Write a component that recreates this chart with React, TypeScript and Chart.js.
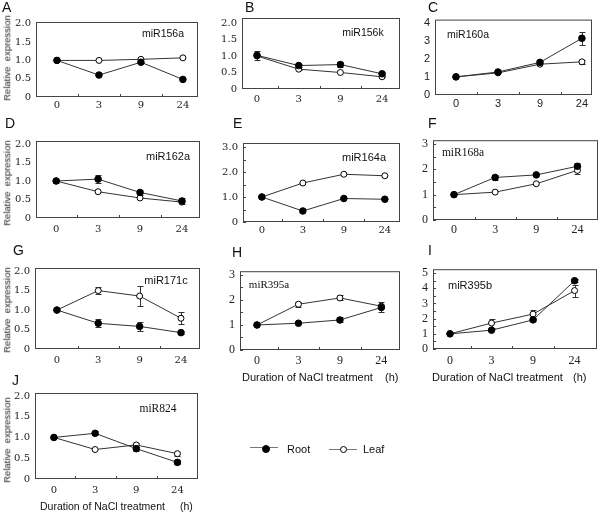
import React, { useEffect, useRef } from "react";
import { Chart, registerables } from "chart.js";
Chart.register(...registerables);

// ---------- data ----------
const timeLabels = ["0", "3", "9", "24"];
const timeIndex = [0, 1, 2, 3];

const rootA = [1.0, 0.6, 0.95, 0.48];
const leafA = [1.0, 1.0, 1.03, 1.07];
const rootErrA = [0, 0, 0, 0];
const leafErrA = [0, 0, 0, 0];

const rootB = [1.02, 0.71, 0.74, 0.46];
const leafB = [1.0, 0.6, 0.5, 0.37];
const rootErrB = [0.13, 0.04, 0.07, 0.04];
const leafErrB = [0, 0.02, 0, 0.02];

const rootC = [1.0, 1.27, 1.8, 3.13];
const leafC = [1.0, 1.22, 1.7, 1.83];
const rootErrC = [0, 0.05, 0.05, 0.35];
const leafErrC = [0, 0, 0, 0.12];

const rootD = [1.0, 1.05, 0.69, 0.46];
const leafD = [1.0, 0.71, 0.54, 0.43];
const rootErrD = [0.05, 0.1, 0.07, 0.07];
const leafErrD = [0, 0, 0, 0];

const rootE = [1.0, 0.44, 0.94, 0.91];
const leafE = [1.0, 1.56, 1.91, 1.85];
const rootErrE = [0, 0, 0, 0];
const leafErrE = [0, 0, 0, 0];

const rootF = [1.0, 1.68, 1.78, 2.12];
const leafF = [1.0, 1.1, 1.43, 1.96];
const rootErrF = [0, 0.1, 0, 0.12];
const leafErrF = [0, 0, 0, 0.15];

const rootG = [1.0, 0.66, 0.58, 0.42];
const leafG = [1.0, 1.5, 1.36, 0.79];
const rootErrG = [0, 0.1, 0.12, 0.04];
const leafErrG = [0, 0.1, 0.25, 0.15];

const rootH = [1.0, 1.07, 1.2, 1.7];
const leafH = [1.0, 1.83, 2.08, 1.75];
const rootErrH = [0, 0, 0.1, 0.2];
const leafErrH = [0, 0.1, 0.1, 0];

const rootI = [1.0, 1.24, 1.92, 4.5];
const leafI = [1.0, 1.71, 2.3, 3.85];
const rootErrI = [0, 0, 0.1, 0.1];
const leafErrI = [0, 0.3, 0.3, 0.4];

const rootJ = [1.0, 1.1, 0.73, 0.4];
const leafJ = [1.0, 0.71, 0.82, 0.61];
const rootErrJ = [0, 0.05, 0.05, 0.05];
const leafErrJ = [0, 0, 0.05, 0.05];

const ticksHalf = [0, 0.5, 1.0, 1.5, 2.0];
const ticksTo3 = [0, 1, 2, 3];
const ticksTo4 = [0, 1, 2, 3, 4];
const ticksTo5 = [0, 1, 2, 3, 4, 5];

const seriesNames = ["Root", "Leaf"];
const yAxisTitle = "Relative  expression";
const xAxisTitle = "Duration of NaCl treatment";
const xAxisUnit = "(h)";

// ---------- styling ----------
const YW = 34;
const PT = 10;
const PR = 8;
const XH = 22;
const SANS = "'Liberation Sans', Arial, sans-serif";
const SERIF = "'Liberation Serif', 'Times New Roman', serif";
const SIMSUN = { family: "'DejaVu Serif', serif", size: 10 };
const SANSTICK = { family: SANS, size: 11 };
const TIMES = { family: SERIF, size: 12 };

const panels = [
  { letter: "A", title: "miR156a", root: rootA, leaf: leafA, rootErr: rootErrA, leafErr: leafErrA, yTicks: ticksHalf, dec: 1, yMax: 2.05, xMin: -0.5, xMax: 3.36, box: [36, 21, 198, 97], font: SIMSUN, xPad: 2, tFont: SANS, tSize: 10.5, tPos: [163, 33], lPos: [2, 0], yTitle: 58 },
  { letter: "B", title: "miR156k", root: rootB, leaf: leafB, rootErr: rootErrB, leafErr: leafErrB, yTicks: ticksHalf, dec: 1, yMax: 2.15, xMin: -0.36, xMax: 3.43, box: [242, 17, 400, 89], font: SIMSUN, xPad: 4, tFont: SANS, tSize: 10.5, tPos: [363, 32], lPos: [245, 0] },
  { letter: "C", title: "miR160a", root: rootC, leaf: leafC, rootErr: rootErrC, leafErr: leafErrC, yTicks: ticksTo4, dec: 0, yMax: 4.16, xMin: -0.5, xMax: 3.24, box: [435, 18, 592, 95], font: SANSTICK, xPad: 2, tFont: SANS, tSize: 10.5, tPos: [468, 34], lPos: [428, 0] },
  { letter: "D", title: "miR162a", root: rootD, leaf: leafD, rootErr: rootErrD, leafErr: leafErrD, yTicks: ticksHalf, dec: 1, yMax: 2.08, xMin: -0.48, xMax: 3.43, box: [36, 140, 200, 218], font: SIMSUN, xPad: 5, tFont: SANS, tSize: 11, tPos: [168, 156], lPos: [5, 116], yTitle: 183 },
  { letter: "E", title: "miR164a", root: rootE, leaf: leafE, rootErr: rootErrE, leafErr: leafErrE, yTicks: ticksTo3, dec: 1, yMax: 3.16, xMin: -0.46, xMax: 3.37, box: [243, 142, 400, 222], font: SIMSUN, xPad: 2, tFont: SANS, tSize: 11, tPos: [364, 157], lPos: [233, 116], yInner: true },
  { letter: "F", title: "miR168a", root: rootF, leaf: leafF, rootErr: rootErrF, leafErr: leafErrF, yTicks: ticksTo3, dec: 0, yMax: 3.15, xMin: -0.51, xMax: 3.5, box: [433, 138, 598, 220], font: TIMES, xPad: 3, tFont: SERIF, tSize: 11.5, tPos: [463, 153], lPos: [428, 116], yInner: true },
  { letter: "G", title: "miR171c", root: rootG, leaf: leafG, rootErr: rootErrG, leafErr: leafErrG, yTicks: ticksHalf, dec: 1, yMax: 2.08, xMin: -0.53, xMax: 3.46, box: [35, 267, 200, 349], font: SIMSUN, xPad: 5, tFont: SANS, tSize: 11, tPos: [166, 280], lPos: [13, 243], yTitle: 310 },
  { letter: "H", title: "miR395a", root: rootH, leaf: leafH, rootErr: rootErrH, leafErr: leafErrH, yTicks: ticksTo3, dec: 0, yMax: 3.15, xMin: -0.41, xMax: 3.45, box: [240, 269, 400, 350], font: TIMES, xPad: 4, tFont: SERIF, tSize: 11, tPos: [269, 284], lPos: [232, 245], yInner: true, xTitle: [242, 377, 11, 385] },
  { letter: "I", title: "miR395b", root: rootI, leaf: leafI, rootErr: rootErrI, leafErr: leafErrI, yTicks: ticksTo5, dec: 0, yMax: 5.26, xMin: -0.41, xMax: 3.54, box: [433, 267, 597, 349], font: TIMES, xPad: 5, tFont: SANS, tSize: 11, tPos: [470, 285], lPos: [428, 243], yInner: true, xTitle: [432, 377, 11, 573] },
  { letter: "J", title: "miR824", root: rootJ, leaf: leafJ, rootErr: rootErrJ, leafErr: leafErrJ, yTicks: ticksHalf, dec: 1, yMax: 2.07, xMin: -0.46, xMax: 3.5, box: [35, 392, 198, 479], font: SIMSUN, xPad: 5, tFont: SERIF, tSize: 11.5, tPos: [158, 409], lPos: [12, 373], yTitle: 440, xTitle: [40, 507, 10.5, 180] },
];

// ---------- plugins ----------
const errorBars = {
  id: "errorBars",
  beforeDatasetsDraw(chart: any) {
    const ctx = chart.ctx;
    const ys = chart.scales.y;
    chart.data.datasets.forEach((ds: any, di: number) => {
      const meta = chart.getDatasetMeta(di);
      const errs = ds.errors || [];
      meta.data.forEach((pt: any, i: number) => {
        const e = errs[i];
        if (!e) return;
        const v = ds.data[i].y;
        const y1 = Math.round(ys.getPixelForValue(v + e)) + 0.5;
        const y2 = Math.round(ys.getPixelForValue(v - e)) + 0.5;
        const x = Math.round(pt.x) + 0.5;
        ctx.save();
        ctx.strokeStyle = "#333";
        ctx.lineWidth = 1;
        ctx.beginPath();
        ctx.moveTo(x, y1);
        ctx.lineTo(x, y2);
        ctx.moveTo(x - 3, y1);
        ctx.lineTo(x + 3, y1);
        ctx.moveTo(x - 3, y2);
        ctx.lineTo(x + 3, y2);
        ctx.stroke();
        ctx.restore();
      });
    });
  },
};

const frame = {
  id: "frame",
  beforeDatasetsDraw(chart: any, _args: any, opts: any) {
    const { ctx, chartArea: a, scales } = chart;
    const xs = scales.x;
    const ys = scales.y;
    ctx.save();
    ctx.strokeStyle = "#444";
    ctx.lineWidth = 1;
    ctx.strokeRect(a.left + 0.5, a.top + 0.5, a.right - a.left - 1, a.bottom - a.top - 1);
    ctx.beginPath();
    for (let i = 0; i < timeIndex.length - 1; i++) {
      const px = Math.round(xs.getPixelForValue((timeIndex[i] + timeIndex[i + 1]) / 2)) + 0.5;
      ctx.moveTo(px, a.bottom);
      ctx.lineTo(px, a.bottom - 3);
    }
    if (opts && opts.yInner) {
      const t = opts.yTicks as number[];
      for (let i = 0; i < t.length; i++) {
        const vals = i < t.length - 1 ? [t[i], (t[i] + t[i + 1]) / 2] : [t[i]];
        vals.forEach((v) => {
          const py = Math.round(ys.getPixelForValue(v)) + 0.5;
          ctx.moveTo(a.left, py);
          ctx.lineTo(a.left + 3, py);
        });
      }
    }
    ctx.stroke();
    ctx.restore();
  },
};

function PanelChart({ p }: { p: any }) {
  const ref = useRef<HTMLCanvasElement | null>(null);
  const [l, t, r, b] = p.box;
  const w = r - l + YW + PR;
  const h = b - t + PT + XH;
  useEffect(() => {
    const mk = (vals: number[]) => timeIndex.map((x, i) => ({ x, y: vals[i] }));
    const chart = new Chart(ref.current as HTMLCanvasElement, {
      type: "line",
      data: {
        datasets: [
          {
            label: seriesNames[0],
            data: mk(p.root),
            errors: p.rootErr,
            borderColor: "#333",
            borderWidth: 1,
            pointRadius: 3.3,
            pointBackgroundColor: "#000",
            pointBorderColor: "#000",
            pointBorderWidth: 1,
          } as any,
          {
            label: seriesNames[1],
            data: mk(p.leaf),
            errors: p.leafErr,
            borderColor: "#333",
            borderWidth: 1,
            pointRadius: 3,
            pointBackgroundColor: "#fff",
            pointBorderColor: "#000",
            pointBorderWidth: 1,
          } as any,
        ],
      },
      options: {
        animation: false,
        responsive: false,
        layout: { padding: { top: PT, right: PR, left: 0, bottom: 0 } },
        plugins: {
          legend: { display: false },
          tooltip: { enabled: false },
          frame: { yInner: !!p.yInner, yTicks: p.yTicks },
        } as any,
        scales: {
          x: {
            type: "linear",
            min: p.xMin,
            max: p.xMax,
            grid: { display: false, drawTicks: false },
            border: { display: false },
            ticks: {
              font: p.font,
              color: "#222",
              padding: p.xPad,
              maxRotation: 0,
              autoSkip: false,
              callback: (v: any) => timeLabels[timeIndex.indexOf(Number(v))] ?? "",
            },
            afterBuildTicks: (s: any) => {
              s.ticks = timeIndex.map((v) => ({ value: v }));
            },
            afterFit: (s: any) => {
              s.height = XH;
            },
          },
          y: {
            type: "linear",
            min: 0,
            max: p.yMax,
            grid: { display: false, drawTicks: false },
            border: { display: false },
            ticks: {
              font: p.font,
              color: "#222",
              padding: 5,
              autoSkip: false,
              callback: (v: any) => (Number(v) === 0 ? "0" : Number(v).toFixed(p.dec)),
            },
            afterBuildTicks: (s: any) => {
              s.ticks = p.yTicks.map((v: number) => ({ value: v }));
            },
            afterFit: (s: any) => {
              s.width = YW;
            },
          },
        },
      },
      plugins: [frame, errorBars],
    } as any);
    return () => chart.destroy();
  }, []);
  return (
    <canvas
      ref={ref}
      width={w}
      height={h}
      style={{ position: "absolute", left: l - YW, top: t - PT, width: w, height: h }}
    />
  );
}

const abs = (extra: any) => ({ position: "absolute" as const, whiteSpace: "nowrap" as const, color: "#111", ...extra });

export default function App() {
  return (
    <div style={{ position: "absolute", left: 0, top: 0, width: 600, height: 514, background: "#fff", overflow: "hidden" }}>
      {panels.map((p) => (
        <React.Fragment key={p.letter}>
          <PanelChart p={p} />
          <div style={abs({ left: p.lPos[0], top: p.lPos[1], fontFamily: SANS, fontSize: 14, lineHeight: "14px" })}>{p.letter}</div>
          <div
            style={abs({
              left: p.tPos[0],
              top: p.tPos[1],
              transform: "translate(-50%, -50%)",
              fontFamily: p.tFont,
              fontSize: p.tSize,
              lineHeight: "1",
            })}
          >
            {p.title}
          </div>
          {p.yTitle !== undefined && (
            <div
              style={abs({
                left: 7,
                top: p.yTitle,
                transform: "translate(-50%, -50%) rotate(-90deg)",
                fontFamily: SANS,
                fontSize: 9.5,
                lineHeight: "1",
                whiteSpace: "pre",
                color: "#222",
              })}
            >
              {yAxisTitle}
            </div>
          )}
          {p.xTitle && (
            <>
              <div style={abs({ left: p.xTitle[0], top: p.xTitle[1] - p.xTitle[2] / 2 - 1, fontFamily: SANS, fontSize: p.xTitle[2], lineHeight: "1.1" })}>
                {xAxisTitle}
              </div>
              <div style={abs({ left: p.xTitle[3], top: p.xTitle[1] - p.xTitle[2] / 2 - 1, fontFamily: SANS, fontSize: p.xTitle[2], lineHeight: "1.1" })}>
                {xAxisUnit}
              </div>
            </>
          )}
        </React.Fragment>
      ))}
      {/* legend */}
      <div style={abs({ left: 250, top: 447, width: 28, height: 0, borderTop: "1.5px solid #777" })} />
      <div style={abs({ left: 262, top: 445, width: 6, height: 6, borderRadius: "50%", background: "#000", border: "0.5px solid #000" })} />
      <div style={abs({ left: 287, top: 443, fontFamily: SANS, fontSize: 11, lineHeight: "13px" })}>{seriesNames[0]}</div>
      <div style={abs({ left: 329, top: 449, width: 28, height: 0, borderTop: "1.5px solid #777" })} />
      <div style={abs({ left: 340, top: 446, width: 5, height: 5, borderRadius: "50%", background: "#fff", border: "1px solid #000" })} />
      <div style={abs({ left: 363, top: 443, fontFamily: SANS, fontSize: 11, lineHeight: "13px" })}>{seriesNames[1]}</div>
    </div>
  );
}
